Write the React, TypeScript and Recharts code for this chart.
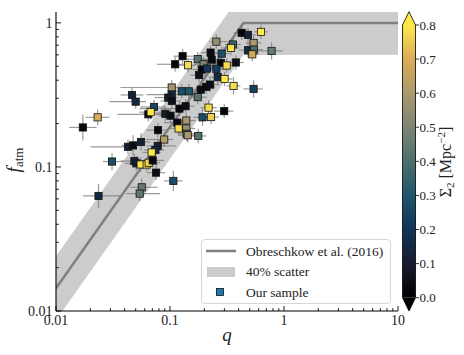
import React from "react";
import {
  ComposedChart,
  Scatter,
  Line,
  Area,
  XAxis,
  YAxis,
  ErrorBar,
} from "recharts";

// mass ratio q and atomic fraction f_atm of the sample
const qVals = [
  0.425, 0.483, 0.628, 0.255, 0.356, 0.541, 0.343, 0.483, 0.544, 0.527, 0.778,
  0.129, 0.227, 0.284, 0.175, 0.111, 0.144, 0.197, 0.232, 0.28, 0.314, 0.378,
  0.19, 0.211, 0.255, 0.18, 0.262, 0.301, 0.361, 0.541, 0.1035, 0.127, 0.146,
  0.1035, 0.0966, 0.104, 0.186, 0.208, 0.225, 0.175, 0.0464, 0.05, 0.0724,
  0.121, 0.137, 0.218, 0.299, 0.0646, 0.0677, 0.091, 0.101, 0.193, 0.229,
  0.0232, 0.116, 0.139, 0.119, 0.139, 0.0785, 0.0172, 0.14, 0.143, 0.177,
  0.089, 0.0428, 0.0474, 0.0557, 0.078, 0.0744, 0.069, 0.031, 0.0487, 0.0507,
  0.0553, 0.0624, 0.065, 0.0705, 0.0754, 0.107, 0.0565, 0.0542, 0.0236,
];
const fVals = [
  0.853, 0.826, 0.866, 0.741, 0.708, 0.726, 0.67, 0.646, 0.653, 0.605, 0.639,
  0.587, 0.622, 0.612, 0.56, 0.516, 0.508, 0.516, 0.556, 0.527, 0.506, 0.531,
  0.474, 0.482, 0.48, 0.434, 0.42, 0.408, 0.365, 0.348, 0.356, 0.335, 0.335,
  0.318, 0.303, 0.287, 0.344, 0.36, 0.373, 0.305, 0.316, 0.284, 0.261, 0.254,
  0.264, 0.258, 0.244, 0.232, 0.24, 0.234, 0.227, 0.221, 0.222, 0.221, 0.203,
  0.21, 0.185, 0.185, 0.18, 0.188, 0.17, 0.166, 0.164, 0.155, 0.138, 0.141,
  0.149, 0.14, 0.131, 0.126, 0.109, 0.11, 0.106, 0.104, 0.104, 0.107, 0.111,
  0.0913, 0.08, 0.0722, 0.0653, 0.0629,
];
// Sigma_2 [Mpc^-2], used for the colour
const sigma2 = [
  0.02, 0.12, 0.8, 0.55, 0.36, 0.6, 0.79, 0.15, 0.4, 0.68, 0.45, 0.03, 0.05,
  0.28, 0.42, 0.02, 0.78, 0.5, 0.04, 0.02, 0.78, 0.05, 0.02, 0.2, 0.22, 0.06,
  0.15, 0.8, 0.78, 0.24, 0.58, 0.28, 0.3, 0.15, 0.1, 0.05, 0.05, 0.03, 0.05,
  0.42, 0.12, 0.15, 0.25, 0.02, 0.05, 0.78, 0.02, 0.06, 0.8, 0.1, 0.05, 0.27,
  0.75, 0.7, 0.03, 0.58, 0.78, 0.56, 0.02, 0.03, 0.42, 0.6, 0.42, 0.62, 0.12,
  0.05, 0.12, 0.12, 0.15, 0.8, 0.28, 0.15, 0.1, 0.8, 0.78, 0.78, 0.03, 0.05,
  0.27, 0.45, 0.45, 0.15,
];
// uncertainties in dex
const qErrLoDex = [
  0.07, 0.07, 0.06, 0.06, 0.07, 0.07, 0.07, 0.08, 0.08, 0.06, 0.16, 0.08, 0.08,
  0.07, 0.09, 0.16, 0.08, 0.08, 0.08, 0.08, 0.07, 0.07, 0.08, 0.08, 0.08, 0.08,
  0.08, 0.07, 0.06, 0.09, 0.45, 0.08, 0.08, 0.22, 0.12, 0.1, 0.08, 0.08, 0.08,
  0.08, 0.1, 0.23, 0.12, 0.35, 0.08, 0.07, 0.09, 0.27, 0.1, 0.2, 0.1, 0.08,
  0.07, 0.105, 0.12, 0.08, 0.08, 0.08, 0.1, 0.12, 0.08, 0.08, 0.07, 0.16, 0.33,
  0.1, 0.08, 0.1, 0.1, 0.08, 0.08, 0.12, 0.1, 0.1, 0.1, 0.1, 0.1, 0.08, 0.08,
  0.1, 0.12, 0.135,
];
const qErrHiDex = [
  0.07, 0.07, 0.06, 0.1, 0.07, 0.07, 0.07, 0.08, 0.08, 0.06, 0.1, 0.09, 0.08,
  0.07, 0.07, 0.1, 0.07, 0.08, 0.08, 0.08, 0.07, 0.07, 0.08, 0.08, 0.08, 0.08,
  0.08, 0.07, 0.06, 0.08, 0.06, 0.08, 0.08, 0.08, 0.08, 0.08, 0.08, 0.08, 0.08,
  0.08, 0.1, 0.09, 0.1, 0.08, 0.08, 0.07, 0.08, 0.13, 0.09, 0.08, 0.08, 0.08,
  0.07, 0.105, 0.08, 0.08, 0.08, 0.08, 0.08, 0.12, 0.08, 0.08, 0.07, 0.08,
  0.05, 0.07, 0.08, 0.16, 0.08, 0.08, 0.1, 0.1, 0.1, 0.1, 0.1, 0.1, 0.1, 0.08,
  0.08, 0.14, 0.18, 0.19,
];
const fErrDex = [
  0.05, 0.05, 0.05, 0.05, 0.05, 0.05, 0.05, 0.05, 0.05, 0.05, 0.06, 0.05, 0.05,
  0.05, 0.05, 0.05, 0.05, 0.05, 0.05, 0.05, 0.05, 0.05, 0.05, 0.05, 0.05, 0.05,
  0.05, 0.05, 0.06, 0.06, 0.05, 0.05, 0.05, 0.05, 0.05, 0.05, 0.05, 0.05, 0.05,
  0.05, 0.05, 0.05, 0.05, 0.05, 0.05, 0.05, 0.05, 0.05, 0.05, 0.05, 0.05, 0.06,
  0.05, 0.055, 0.05, 0.05, 0.05, 0.05, 0.05, 0.09, 0.05, 0.05, 0.05, 0.05, 0.05,
  0.07, 0.06, 0.05, 0.05, 0.05, 0.06, 0.05, 0.05, 0.05, 0.05, 0.05, 0.05, 0.05,
  0.07, 0.06, 0.05, 0.085,
];

// Obreschkow et al. (2016): f_atm = min(1, 2.5 q^1.12), 40% scatter band
const modelQ = [0.01, 0.441, 10];
const obreschkow = (q: number) => Math.min(1, 2.5 * Math.pow(q, 1.12));

const xMajor = [0.01, 0.1, 1, 10];
const yMajor = [0.01, 0.1, 1];

const legendLabels = ["Obreschkow et al. (2016)", "40% scatter", "Our sample"];

const cmapVals = [0, 0.1, 0.2, 0.3, 0.4, 0.5, 0.6, 0.7, 0.8];
const cmapCols = [
  "#000000", "#171c2c", "#11345a", "#1f566a", "#4c6f6e",
  "#7c8574", "#ab996e", "#dcab58", "#fde94b",
];
const cbTicks = [0, 0.1, 0.2, 0.3, 0.4, 0.5, 0.6, 0.7, 0.8];

const FONT = '"Liberation Serif", "DejaVu Serif", serif';

const hexRgb = (h: string) => [
  parseInt(h.slice(1, 3), 16),
  parseInt(h.slice(3, 5), 16),
  parseInt(h.slice(5, 7), 16),
];

function cmap(v: number) {
  const t = Math.max(0, Math.min(0.8, v));
  let i = 0;
  while (i < cmapVals.length - 2 && t > cmapVals[i + 1]) i++;
  const a = hexRgb(cmapCols[i]);
  const b = hexRgb(cmapCols[i + 1]);
  const u = (t - cmapVals[i]) / (cmapVals[i + 1] - cmapVals[i]);
  const c = a.map((x, k) => Math.round(x + (b[k] - x) * u));
  return `rgb(${c[0]},${c[1]},${c[2]})`;
}

const model = modelQ.map((q) => {
  const f = obreschkow(q);
  return { q, f, band: [0.6 * f, f / 0.6] };
});

const points = qVals.map((q, i) => {
  const f = fVals[i];
  return {
    q,
    f,
    s: sigma2[i],
    qErr: [q * (1 - Math.pow(10, -qErrLoDex[i])), q * (Math.pow(10, qErrHiDex[i]) - 1)],
    fErr: [f * (1 - Math.pow(10, -fErrDex[i])), f * (Math.pow(10, fErrDex[i]) - 1)],
  };
});

const minorTicks = (majors: number[]) => {
  const out: number[] = [];
  majors.forEach((m, i) => {
    out.push(m);
    if (i < majors.length - 1) for (let k = 2; k <= 9; k++) out.push(+(m * k).toPrecision(3));
  });
  return out;
};
const xTicks = minorTicks(xMajor);
const yTicks = minorTicks(yMajor);

const XTick = ({ x, y, payload }: any) => {
  const major = xMajor.includes(payload.value);
  return (
    <g>
      <line x1={x} x2={x} y1={y} y2={y - (major ? 5 : 2.8)} stroke="#000" strokeWidth={0.9} />
      {major && (
        <text x={x} y={y + 14} textAnchor="middle" style={{ fontFamily: FONT }} fontSize={14} fill="#222">
          {String(payload.value)}
        </text>
      )}
    </g>
  );
};

const YTick = ({ x, y, payload }: any) => {
  const major = yMajor.includes(payload.value);
  return (
    <g>
      <line x1={x} x2={x + (major ? 5 : 2.8)} y1={y} y2={y} stroke="#000" strokeWidth={0.9} />
      {major && (
        <text x={x - 3.5} y={y} dy="0.35em" textAnchor="end" style={{ fontFamily: FONT }} fontSize={14} fill="#222">
          {String(payload.value)}
        </text>
      )}
    </g>
  );
};

const Square = (props: any) => {
  const { cx, cy, payload } = props;
  if (cx == null || cy == null) return null;
  return (
    <rect x={cx - 3.6} y={cy - 3.6} width={7.2} height={7.2} fill={cmap(payload.s)} stroke="#111" strokeWidth={0.8} />
  );
};

// legend box drawn inside the plot, lower right
const LegendBox = ({ x, y }: { x: number; y: number }) => (
  <g transform={`translate(${x},${y})`}>
    <rect x={0.5} y={0.5} width={189} height={64} rx={3.5} fill="#fff" fillOpacity={0.8} stroke="#d6d6d6" strokeWidth={1} />
    <line x1={5} x2={35} y1={12} y2={12} stroke="#808080" strokeWidth={2.5} />
    <rect x={6} y={28} width={28} height={10} fill="#cccccc" />
    <rect x={15.5} y={49.5} width={7} height={7} fill="#1f77b4" stroke="#111" strokeWidth={0.8} />
    {legendLabels.map((t, i) => (
      <text key={t} x={45} y={12 + i * 20.5} dy="0.35em" style={{ fontFamily: FONT }} fontSize={13.5} fill="#222">
        {t}
      </text>
    ))}
  </g>
);

const cb = { x: 402.5, w: 13, top: 25, bottom: 297.7, tip: 13.3 };
const cbY = (v: number) => cb.bottom - (v / 0.8) * (cb.bottom - cb.top);

const Colorbar = () => {
  const cx = cb.x + cb.w / 2;
  const r = cb.x + cb.w;
  const outline = `${cb.x},${cb.top} ${cx},${cb.top - cb.tip} ${r},${cb.top} ${r},${cb.bottom} ${cx},${cb.bottom + cb.tip} ${cb.x},${cb.bottom}`;
  return (
    <g>
      <defs>
        <linearGradient id="cbgrad" x1="0" y1="1" x2="0" y2="0">
          {cmapVals.map((v, i) => (
            <stop key={i} offset={v / 0.8} stopColor={cmapCols[i]} />
          ))}
        </linearGradient>
      </defs>
      <rect x={cb.x} y={cb.top} width={cb.w} height={cb.bottom - cb.top} fill="url(#cbgrad)" />
      <polygon points={`${cb.x},${cb.top} ${cx},${cb.top - cb.tip} ${r},${cb.top}`} fill={cmap(0.8)} />
      <polygon points={`${cb.x},${cb.bottom} ${cx},${cb.bottom + cb.tip} ${r},${cb.bottom}`} fill={cmap(0)} />
      <polygon points={outline} fill="none" stroke="#000" strokeWidth={0.8} />
      {cbTicks.map((v) => (
        <g key={v}>
          <line x1={r} x2={r + 3.5} y1={cbY(v)} y2={cbY(v)} stroke="#000" strokeWidth={0.8} />
          <text x={r + 4} y={cbY(v)} dy="0.35em" style={{ fontFamily: FONT }} fontSize={13} fill="#222">
            {v.toFixed(1)}
          </text>
        </g>
      ))}
      <text transform="rotate(-90 451 162)" x={451} y={162} textAnchor="middle" style={{ fontFamily: FONT }} fontSize={16} fill="#222">
        Σ<tspan fontSize={11} dy={3}>2</tspan>
        <tspan dy={-3}> [Mpc</tspan>
        <tspan fontSize={11} dy={-6}>−2</tspan>
        <tspan dy={6}>]</tspan>
      </text>
    </g>
  );
};

export default function App() {
  return (
    <div style={{ position: "absolute", left: 0, top: 0, width: 464, height: 355, background: "#fff" }}>
      <ComposedChart
        width={464}
        height={355}
        data={model}
        margin={{ top: 12, right: 66, bottom: 0, left: 0 }}
      >
        <XAxis
          dataKey="q"
          type="number"
          scale="log"
          domain={[0.01, 10]}
          allowDataOverflow
          ticks={xTicks}
          interval={0}
          tick={XTick}
          tickLine={false}
          tickSize={0}
          tickMargin={0}
          axisLine={{ stroke: "#000", strokeWidth: 1.1 }}
          height={44}
        />
        <XAxis xAxisId="top" orientation="top" type="number" scale="log" domain={[0.01, 10]} allowDataOverflow tick={false} tickLine={false} axisLine={{ stroke: "#000", strokeWidth: 1.1 }} height={0} />
        <YAxis
          dataKey="f"
          type="number"
          scale="log"
          domain={[0.01, 1.19]}
          allowDataOverflow
          ticks={yTicks}
          interval={0}
          tick={YTick}
          tickLine={false}
          tickSize={0}
          tickMargin={0}
          axisLine={{ stroke: "#000", strokeWidth: 1.1 }}
          width={56}
        />
        <YAxis yAxisId="right" orientation="right" type="number" scale="log" domain={[0.01, 1.19]} allowDataOverflow tick={false} tickLine={false} axisLine={{ stroke: "#000", strokeWidth: 1.1 }} width={0} />
        <Area dataKey="band" type="linear" fill="#cccccc" fillOpacity={1} stroke="none" isAnimationActive={false} />
        <Line dataKey="f" type="linear" stroke="#808080" strokeWidth={2.5} dot={false} isAnimationActive={false} />
        <Scatter data={points} dataKey="f" shape={Square} isAnimationActive={false}>
          <ErrorBar dataKey="qErr" direction="x" width={0} stroke="#7a7a7a" strokeWidth={1.2} strokeOpacity={0.75} />
          <ErrorBar dataKey="fErr" direction="y" width={0} stroke="#7a7a7a" strokeWidth={1.2} strokeOpacity={0.75} />
        </Scatter>
      </ComposedChart>
      <svg width={464} height={355} style={{ position: "absolute", left: 0, top: 0, pointerEvents: "none" }}>
        <LegendBox x={201} y={239} />
        <Colorbar />
        <text x={227} y={341} textAnchor="middle" style={{ fontFamily: FONT }} fontStyle="italic" fontSize={19} fill="#222">
          q
        </text>
        <text transform="rotate(-90 20 160)" x={20} y={160} textAnchor="middle" style={{ fontFamily: FONT }} fill="#222">
          <tspan fontStyle="italic" fontSize={19}>f</tspan>
          <tspan fontSize={13} dy={3}>atm</tspan>
        </text>
      </svg>
    </div>
  );
}
